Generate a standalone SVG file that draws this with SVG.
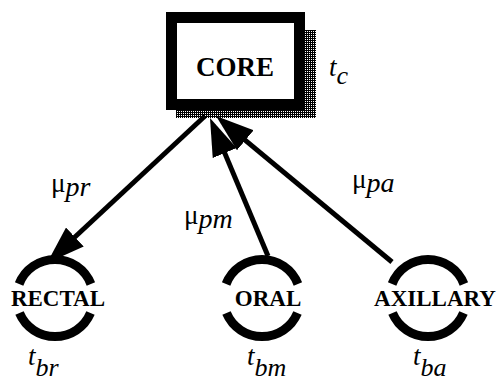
<svg xmlns="http://www.w3.org/2000/svg" width="499" height="386" viewBox="0 0 499 386">
<style>
.nm{font-family:"Liberation Serif","Times New Roman",serif;font-weight:bold;fill:#000}
.it{font-family:"Liberation Serif","Times New Roman",serif;font-style:italic;fill:#000}
.mu{font-family:"Liberation Serif","Times New Roman",serif;fill:#000}
.ring{fill:none;stroke:#000;stroke-width:9}
.edge{fill:none;stroke:#000;stroke-width:5}
</style>
<defs>
<pattern id="stip" width="2" height="2" patternUnits="userSpaceOnUse">
<rect width="2" height="2" fill="#000"/>
<rect x="1" y="1" width="1" height="1" fill="#fff"/>
</pattern>
<marker id="ah" markerUnits="userSpaceOnUse" viewBox="0 -13 38 26" refX="30" refY="0" markerWidth="38" markerHeight="26" orient="auto">
<path d="M0,-13 L38,0 L0,13 z" fill="#000"/>
</marker>
</defs>
<g id="core">
<rect x="305" y="30" width="11" height="88" fill="url(#stip)"/>
<rect x="176" y="110" width="140" height="8" fill="url(#stip)"/>
<rect x="171.5" y="17.5" width="128" height="87" fill="#fff" stroke="#000" stroke-width="11"/>
<text class="nm" x="235" y="76" font-size="27" text-anchor="middle">CORE</text>
<text class="it" x="329" y="76" font-size="27">t<tspan font-size="26" dy="8">c</tspan></text>
</g>
<g id="rectal">
<path class="ring" d="M19.1,284 A38.5,38.5 0 0 1 90.9,284 M90.5,313 A38.5,38.5 0 0 1 19.5,313"/>
<text class="nm" x="58" y="306" font-size="23" text-anchor="middle">RECTAL</text>
<text class="it" x="28" y="365" font-size="27">t<tspan font-size="26" dy="11">br</tspan></text>
</g>
<g id="oral">
<path class="ring" d="M226.1,284 A38.5,38.5 0 0 1 297.9,284 M297.5,313 A38.5,38.5 0 0 1 226.5,313"/>
<text class="nm" x="268" y="306" font-size="23" text-anchor="middle">ORAL</text>
<text class="it" x="247" y="365" font-size="27">t<tspan font-size="26" dy="11">bm</tspan></text>
</g>
<g id="axillary">
<path class="ring" d="M392.1,284 A38.5,38.5 0 0 1 463.9,284 M463.5,313 A38.5,38.5 0 0 1 392.5,313"/>
<text class="nm" x="435" y="306" font-size="23" text-anchor="middle">AXILLARY</text>
<text class="it" x="413" y="365" font-size="27">t<tspan font-size="26" dy="11">ba</tspan></text>
</g>
<g id="connectors">
<line class="edge" x1="205" y1="116" x2="52.9" y2="257.5" marker-end="url(#ah)"/>
<line class="edge" x1="268" y1="256" x2="213.1" y2="125.4" marker-end="url(#ah)"/>
<line class="edge" x1="392" y1="262" x2="222.2" y2="121.1" marker-end="url(#ah)"/>
<text class="mu" x="51" y="192" font-size="27">μ<tspan class="it" font-size="28" dy="4">pr</tspan></text>
<text class="mu" x="184" y="224" font-size="27">μ<tspan class="it" font-size="28" dy="4">pm</tspan></text>
<text class="mu" x="352" y="188" font-size="27">μ<tspan class="it" font-size="28" dy="4">pa</tspan></text>
</g>
</svg>
